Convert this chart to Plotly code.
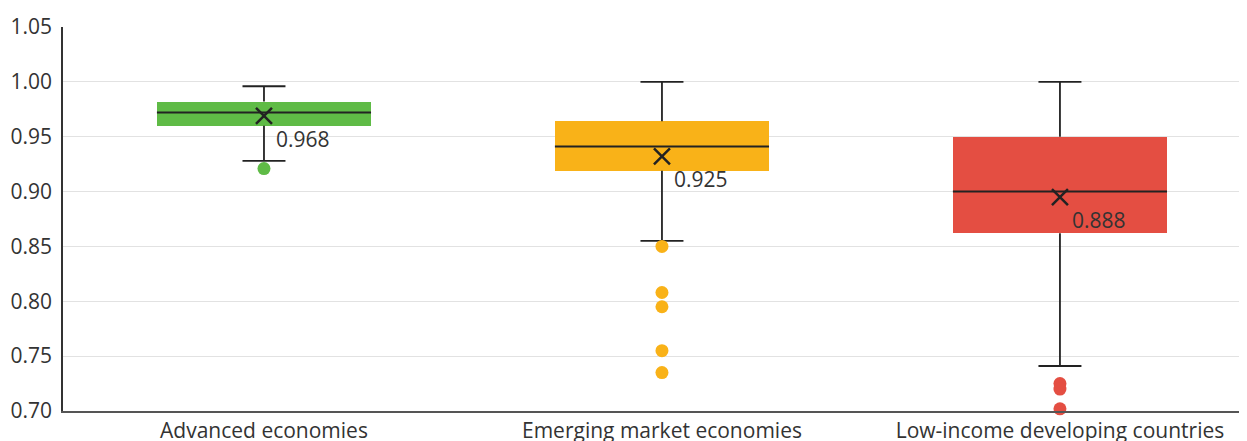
import plotly.graph_objects as go

categories = ["Advanced economies", "Emerging market economies", "Low-income developing countries"]
q1 = [0.960, 0.919, 0.862]
median = [0.972, 0.941, 0.900]
q3 = [0.982, 0.964, 0.950]
lower_whisker = [0.928, 0.855, 0.741]
upper_whisker = [0.996, 1.000, 1.000]
mean = [0.969, 0.932, 0.895]
mean_labels = ["0.968", "0.925", "0.888"]
outliers = [
    [0.921],
    [0.850, 0.808, 0.795, 0.755, 0.735],
    [0.725, 0.720, 0.702],
]
y_ticks = [0.70, 0.75, 0.80, 0.85, 0.90, 0.95, 1.00, 1.05]

colors = ["#5FBB46", "#F9B218", "#E44E42"]
FONT = "Open Sans"
BOX_W = 0.538
CAP_HALF = 0.054
DARK = "#222222"

xs = list(range(len(categories)))
fig = go.Figure()

# boxes
fig.add_trace(go.Bar(
    x=xs, y=[b - a for a, b in zip(q1, q3)], base=q1, width=BOX_W,
    marker=dict(color=colors, line=dict(width=0)), hoverinfo="skip", showlegend=False,
))

# whiskers, caps and medians
wx, wy = [], []
for i in xs:
    wx += [i, i, None, i, i, None,
           i - CAP_HALF, i + CAP_HALF, None, i - CAP_HALF, i + CAP_HALF, None]
    wy += [q3[i], upper_whisker[i], None, q1[i], lower_whisker[i], None,
           upper_whisker[i], upper_whisker[i], None, lower_whisker[i], lower_whisker[i], None]
fig.add_trace(go.Scatter(x=wx, y=wy, mode="lines", line=dict(color=DARK, width=1.8),
                         hoverinfo="skip", showlegend=False))
mx, my = [], []
for i in xs:
    mx += [i - BOX_W / 2, i + BOX_W / 2, None]
    my += [median[i], median[i], None]
fig.add_trace(go.Scatter(x=mx, y=my, mode="lines", line=dict(color=DARK, width=2),
                         hoverinfo="skip", showlegend=False))

# outliers
for i in xs:
    fig.add_trace(go.Scatter(
        x=[i] * len(outliers[i]), y=outliers[i], mode="markers",
        marker=dict(color=colors[i], size=13, line=dict(width=0)),
        cliponaxis=False, showlegend=False,
    ))

# means
fig.add_trace(go.Scatter(
    x=xs, y=mean, mode="markers",
    marker=dict(symbol="x-thin", size=16, line=dict(color=DARK, width=2.5)),
    showlegend=False,
))
for i in xs:
    fig.add_annotation(x=i, y=mean[i], text=mean_labels[i], showarrow=False,
                       xanchor="left", yanchor="top", xshift=10, yshift=-7,
                       font=dict(family=FONT, size=21, color="#333333"))

# page body has an 8px margin, so the figure is offset by 8px
fig.update_layout(
    width=1239, height=433,
    margin=dict(l=55, r=0, t=19, b=30),
    plot_bgcolor="white", paper_bgcolor="white",
    font=dict(family=FONT, size=21, color="#333333"),
    bargap=0,
    xaxis=dict(
        range=[-0.505, 2.47], tickvals=xs, ticktext=categories,
        showgrid=False, zeroline=False, showline=True, linecolor="#555555", linewidth=2,
        ticks="", automargin=False, tickfont=dict(size=21, color="#333333"),
    ),
    yaxis=dict(
        range=[0.70, 1.05], tickvals=y_ticks, tickformat=".2f",
        showgrid=True, gridcolor="#E2E2E2", gridwidth=1, zeroline=False,
        showline=True, linecolor="#333333", linewidth=1.5, automargin=False,
        ticks="", ticklabelstandoff=5, tickfont=dict(size=21, color="#333333"),
    ),
)

fig.write_html("out.html")
